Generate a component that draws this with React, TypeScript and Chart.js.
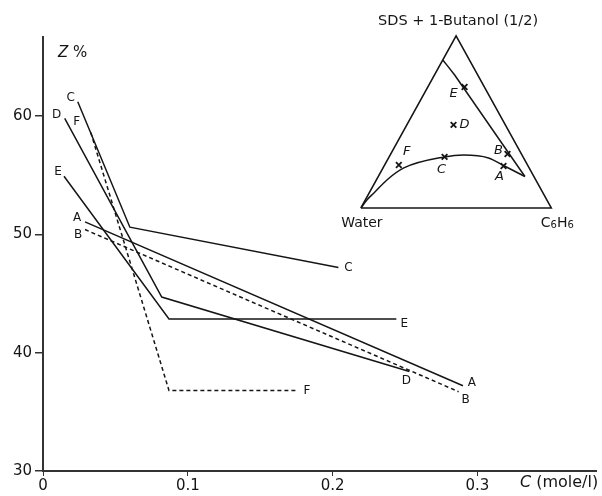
import React, { useEffect, useRef } from "react";
import { Chart, registerables } from "chart.js";
Chart.register(...registerables);

const FONT = "'DejaVu Sans', Verdana, sans-serif";
const INK = "#151515";

// ---- Main chart data: C (mole/l) vs Z % ----
const seriesNames = ["A", "B", "C", "D", "E", "F"];
const concA = [0.029, 0.290];
const zA = [51.05, 37.2];
const concB = [0.029, 0.287];
const zB = [50.4, 36.7];
const concC = [0.024, 0.060, 0.204];
const zC = [61.2, 50.6, 47.2];
const concD = [0.015, 0.082, 0.253];
const zD = [59.8, 44.7, 38.4];
const concE = [0.0145, 0.087, 0.244];
const zE = [54.9, 42.85, 42.85];
const concF = [0.033, 0.087, 0.176];
const zF = [58.6, 36.8, 36.8];
const dashedSeries = ["B", "F"];

const xTicks = [0, 0.1, 0.2, 0.3];
const yTicks = [30, 40, 50, 60];

// ---- Inset ternary diagram: fractions of benzene and SDS+1-butanol (water = rest) ----
const pointNames = ["A", "B", "C", "D", "E", "F"];
const pointBenzene = [0.627, 0.613, 0.291, 0.245, 0.193, 0.074];
const pointSurf = [0.244, 0.314, 0.297, 0.483, 0.703, 0.25];
const upperBenzene = [0.0, 0.042, 0.106, 0.77];
const upperSurf = [0.86, 0.826, 0.773, 0.183];
const arcBenzene = [0, 0.008, 0.025, 0.055, 0.109, 0.291, 0.385, 0.525, 0.632, 0.77];
const arcSurf = [0, 0.047, 0.087, 0.163, 0.233, 0.297, 0.308, 0.291, 0.244, 0.183];
const cornerBenzene = [0, 1, 0, 0];
const cornerSurf = [0, 0, 1, 0];

// label offsets (px) – layout only
const startOffsets: Record<string, [number, number]> = {
  A: [-8, -4], B: [-7, 5], C: [-7, -4], D: [-8, -3], E: [-6, -4], F: [-14, -11],
};
const endOffsets: Record<string, [number, number]> = {
  A: [9, -3], B: [7, 8], C: [10, 0], D: [-3, 9], E: [8, 5], F: [9, 0],
};
const pointLabelOffsets: Record<string, [number, number]> = {
  A: [-4, 11], B: [-9, -3], C: [-3, 13], D: [11, 0], E: [-11, 7], F: [8, -13],
};

const toXY = (xs: number[], ys: number[]) => xs.map((x, i) => ({ x, y: ys[i] }));
const toTri = (b: number[], s: number[]) => b.map((bv, i) => ({ x: bv + s[i] / 2, y: s[i] }));

const mainSeries: Record<string, { x: number; y: number }[]> = {
  A: toXY(concA, zA),
  B: toXY(concB, zB),
  C: toXY(concC, zC),
  D: toXY(concD, zD),
  E: toXY(concE, zE),
  F: toXY(concF, zF),
};

const labelPlugin = {
  id: "labels",
  afterDatasetsDraw(chart: any) {
    const ctx = chart.ctx;
    const ca = chart.chartArea;
    ctx.save();
    ctx.fillStyle = INK;
    ctx.textBaseline = "middle";
    ctx.textAlign = "center";
    // series end labels
    ctx.font = `12px ${FONT}`;
    seriesNames.forEach((name, i) => {
      const meta = chart.getDatasetMeta(i);
      const pts = meta.data;
      const first = pts[0];
      const last = pts[pts.length - 1];
      const so = startOffsets[name];
      const eo = endOffsets[name];
      ctx.fillText(name, first.x + so[0], first.y + so[1]);
      ctx.fillText(name, last.x + eo[0], last.y + eo[1]);
    });
    // ternary point labels
    const markerIdx = chart.data.datasets.findIndex((d: any) => d.id === "markers");
    const mMeta = chart.getDatasetMeta(markerIdx);
    ctx.font = `italic 13px ${FONT}`;
    pointNames.forEach((name, i) => {
      const p = mMeta.data[i];
      const o = pointLabelOffsets[name];
      ctx.fillText(name, p.x + o[0], p.y + o[1]);
    });
    // ternary corner labels
    const tx = chart.scales.tx;
    const ty = chart.scales.ty;
    const apexX = tx.getPixelForValue(0.5);
    const apexY = ty.getPixelForValue(1);
    const wX = tx.getPixelForValue(0);
    const bY = ty.getPixelForValue(0);
    const cX = tx.getPixelForValue(1);
    ctx.font = `14.5px ${FONT}`;
    ctx.fillText("SDS + 1-Butanol (1/2)", apexX + 2, apexY - 15);
    ctx.font = `14px ${FONT}`;
    ctx.fillText("Water", wX + 1, bY + 15);
    // C6H6 with subscripts
    const parts: [string, boolean][] = [["C", false], ["6", true], ["H", false], ["6", true]];
    const widths = parts.map(([t, sub]) => {
      ctx.font = sub ? `10px ${FONT}` : `14px ${FONT}`;
      return ctx.measureText(t).width;
    });
    const total = widths.reduce((a, b) => a + b, 0);
    let x = cX + 6 - total / 2;
    ctx.textAlign = "left";
    parts.forEach(([t, sub], i) => {
      ctx.font = sub ? `10px ${FONT}` : `14px ${FONT}`;
      ctx.fillText(t, x, bY + 15 + (sub ? 2 : 0));
      x += widths[i];
    });
    // axis titles
    ctx.font = `italic 15px ${FONT}`;
    ctx.textAlign = "left";
    ctx.fillText("Z", ca.left + 15, ca.top + 16);
    const zw = ctx.measureText("Z ").width;
    ctx.font = `15px ${FONT}`;
    ctx.fillText("%", ca.left + 15 + zw, ca.top + 16);
    ctx.font = `16px ${FONT}`;
    const rest = " (mole/l)";
    const rw = ctx.measureText(rest).width;
    ctx.textAlign = "right";
    ctx.fillText(rest, ca.right + 2, ca.bottom + 12);
    ctx.font = `italic 16px ${FONT}`;
    ctx.fillText("C", ca.right + 2 - rw, ca.bottom + 12);
    ctx.restore();
  },
};

export default function App() {
  const ref = useRef<HTMLCanvasElement | null>(null);
  useEffect(() => {
    if (!ref.current) return;
    const datasets: any[] = seriesNames.map((name) => ({
      label: name,
      data: mainSeries[name],
      showLine: true,
      borderColor: INK,
      borderWidth: 1.5,
      borderDash: dashedSeries.includes(name) ? [4, 3] : [],
      pointRadius: 0,
      tension: 0,
      fill: false,
      xAxisID: "x",
      yAxisID: "y",
    }));
    const triCommon = {
      xAxisID: "tx",
      yAxisID: "ty",
      showLine: true,
      borderColor: INK,
      pointRadius: 0,
      fill: false,
      clip: false,
    };
    datasets.push({ ...triCommon, id: "triangle", data: toTri(cornerBenzene, cornerSurf), borderWidth: 1.6, tension: 0 });
    datasets.push({ ...triCommon, id: "upper", data: toTri(upperBenzene, upperSurf), borderWidth: 1.5, tension: 0 });
    datasets.push({
      ...triCommon,
      id: "arc",
      data: toTri(arcBenzene, arcSurf),
      borderWidth: 1.5,
      cubicInterpolationMode: "monotone",
    });
    datasets.push({
      ...triCommon,
      id: "markers",
      data: toTri(pointBenzene, pointSurf),
      showLine: false,
      pointStyle: "crossRot",
      pointRadius: 4,
      pointBorderWidth: 1.8,
      pointBorderColor: INK,
    });

    const chart = new Chart(ref.current, {
      type: "scatter",
      data: { datasets },
      options: {
        animation: false,
        responsive: false,
        devicePixelRatio: 1,
        layout: { padding: { top: 37, right: 4, left: 0, bottom: 0 } },
        plugins: { legend: { display: false }, tooltip: { enabled: false }, title: { display: false } },
        scales: {
          x: {
            type: "linear",
            position: "bottom",
            min: 0,
            max: 0.382,
            afterBuildTicks: (s: any) => {
              s.ticks = xTicks.map((v) => ({ value: v }));
            },
            afterFit: (s: any) => {
              s.height = 25;
            },
            ticks: {
              color: INK,
              font: { family: FONT, size: 15 },
              padding: 1,
              maxRotation: 0,
              callback: (v: any) => String(v),
            },
            grid: { display: true, drawOnChartArea: false, drawTicks: true, tickLength: 5, color: "#333", lineWidth: 1 },
            border: { display: true, color: "#333", width: 2 },
          },
          y: {
            type: "linear",
            position: "left",
            min: 30,
            max: 66.67,
            afterBuildTicks: (s: any) => {
              s.ticks = yTicks.map((v) => ({ value: v }));
            },
            afterFit: (s: any) => {
              s.width = 43;
            },
            ticks: { color: INK, font: { family: FONT, size: 15 }, padding: 3 },
            grid: { display: true, drawOnChartArea: false, drawTicks: true, tickLength: 8, color: "#333", lineWidth: 1.5 },
            border: { display: true, color: "#333", width: 2 },
          },
          tx: { type: "linear", display: false, min: -1.67, max: 1.236 },
          ty: { type: "linear", display: false, min: -1.529, max: 0.994 },
        },
      } as any,
      plugins: [labelPlugin],
    });
    return () => chart.destroy();
  }, []);
  return (
    <div style={{ position: "fixed", left: 0, top: 0, width: 602, height: 496, background: "#fff" }}>
      <canvas ref={ref} width={602} height={496} style={{ display: "block" }} />
    </div>
  );
}
